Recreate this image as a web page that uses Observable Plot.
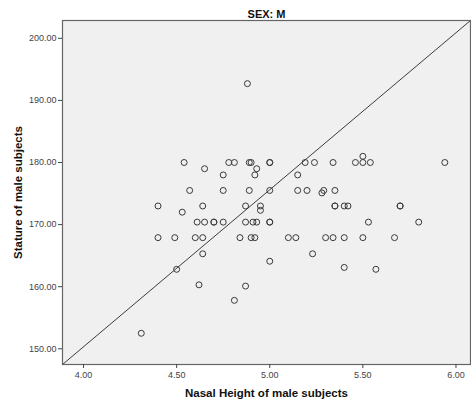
<!DOCTYPE html>
<html>
<head>
<meta charset="utf-8">
<script src="https://cdn.jsdelivr.net/npm/d3@7"></script>
<script src="https://cdn.jsdelivr.net/npm/@observablehq/plot@0.6"></script>
<style>
  html, body { margin: 0; padding: 0; background: #fff; }
  svg { display: block; font-family: "Liberation Sans", Arial, sans-serif; }
</style>
</head>
<body>
<div id="chart"></div>
<script>
const title = "SEX: M";
const xLabel = "Nasal Height of male subjects";
const yLabel = "Stature of male subjects";
const xTicks = [4.0, 4.5, 5.0, 5.5, 6.0];
const yTicks = [150, 160, 170, 180, 190, 200];
const xDomain = [3.887, 6.078];
const yDomain = [147.47, 202.87];

const nasal = [
  4.54, 4.65, 4.78, 4.81, 4.89, 4.90, 4.93, 5.00, 5.00, 4.75,
  4.92, 4.57, 4.75, 4.89, 5.00, 4.40, 4.53, 4.64, 4.87, 4.95,
  4.95, 4.61, 4.65, 4.70, 4.70, 4.75, 4.87, 4.91, 4.93, 5.00,
  5.00, 4.40, 4.49, 4.60, 4.64, 4.84, 4.90, 4.92, 4.64, 4.50,
  5.00, 4.62, 4.87, 4.81, 4.31, 5.19, 5.24, 5.34, 5.46, 5.50,
  5.50, 5.54, 5.94, 5.15, 5.15, 5.20, 5.28, 5.29, 5.35, 5.35,
  5.35, 5.40, 5.42, 5.70, 5.70, 5.53, 5.80, 5.10, 5.14, 5.30,
  5.34, 5.40, 5.50, 5.67, 5.23, 5.40, 5.57, 4.88
];
const stature = [
  180, 179, 180, 180, 180, 180, 179, 180, 180, 178,
  178, 175.5, 175.5, 175.5, 175.5, 173, 172, 173, 173, 173,
  172.3, 170.4, 170.4, 170.4, 170.4, 170.4, 170.4, 170.4, 170.4, 170.4,
  170.4, 167.9, 167.9, 167.9, 167.9, 167.9, 167.9, 167.9, 165.3, 162.8,
  164.1, 160.3, 160.1, 157.8, 152.5, 180, 180, 180, 180, 181,
  180, 180, 180, 178, 175.5, 175.5, 175.1, 175.5, 175.5, 173,
  173, 173, 173, 173, 173, 170.4, 170.4, 167.9, 167.9, 167.9,
  167.9, 167.9, 167.9, 167.9, 165.3, 163.1, 162.8, 192.7
];

const points = nasal.map((x, i) => ({x, y: stature[i]}));
const refLine = [{x: xDomain[0], y: yDomain[0]}, {x: xDomain[1], y: yDomain[1]}];

const chart = Plot.plot({
  width: 471,
  height: 409,
  marginLeft: 62,
  marginRight: 1,
  marginTop: 20,
  marginBottom: 45,
  style: {background: "#ffffff", fontFamily: "'Liberation Sans', Arial, sans-serif"},
  x: {domain: xDomain},
  y: {domain: yDomain},
  marks: [
    Plot.frame({fill: "#f0f0f0", stroke: null}),
    Plot.line(refLine, {x: "x", y: "y", stroke: "#3c3c3c", strokeWidth: 1, clip: true}),
    Plot.dot(points, {x: "x", y: "y", r: 3, stroke: "#3a3a3a", strokeWidth: 1, fill: "none"}),
    Plot.frame({stroke: "#666", strokeWidth: 1.2}),
    Plot.axisX({ticks: xTicks, tickFormat: d3.format(".2f"), tickSize: 4, tickPadding: 3, fontSize: 9, color: "#444", label: null}),
    Plot.axisY({ticks: yTicks, tickFormat: d3.format(".2f"), tickSize: 4, tickPadding: 2, fontSize: 9, color: "#444", label: null}),
    Plot.text([title], {frameAnchor: "top", dy: -10, text: d => d, fontWeight: "bold", fontSize: 11, fill: "#111"}),
    Plot.text([xLabel], {frameAnchor: "bottom", dy: 32, text: d => d, fontWeight: "bold", fontSize: 11.5, fill: "#111"}),
    Plot.text([yLabel], {frameAnchor: "left", dx: -44, rotate: -90, textAnchor: "middle", text: d => d, fontWeight: "bold", fontSize: 11.5, fill: "#111"})
  ]
});
document.getElementById("chart").appendChild(chart);
</script>
</body>
</html>
